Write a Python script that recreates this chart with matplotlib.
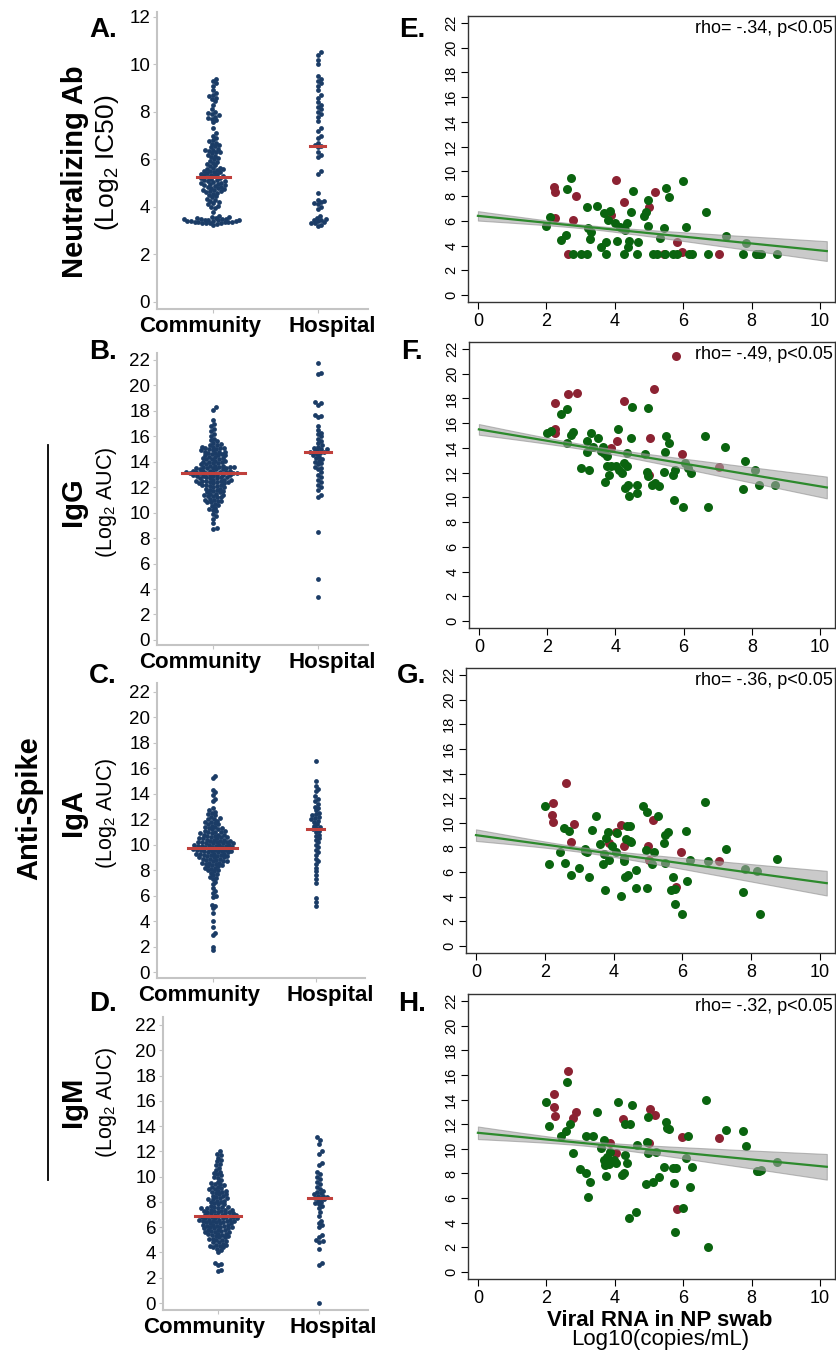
import numpy as np
import matplotlib.pyplot as plt

plt.rcParams['font.family'] = ['Liberation Sans', 'DejaVu Sans']
plt.rcParams['mathtext.fontset'] = 'custom'
plt.rcParams['mathtext.rm'] = 'Liberation Sans'
plt.rcParams['mathtext.default'] = 'regular'

# ---------------- data: beeswarm panels (left) ----------------
categories = ['Community', 'Hospital']

nab_comm = [3.25, 3.28, 3.3, 3.3, 3.32, 3.35, 3.36, 3.38, 3.4, 3.4, 3.42, 3.43, 3.45, 3.46, 3.48,
            3.5, 3.5, 3.52, 3.55, 3.56, 3.58, 3.6, 3.3, 3.35, 3.45, 3.4, 3.5, 3.38,
            3.8, 3.95, 4.05, 4.1, 4.2, 4.25, 4.3, 4.35, 4.4, 4.45, 4.5, 4.55, 4.6, 4.62, 4.65,
            4.7, 4.72, 4.75, 4.8, 4.82, 4.85, 4.88, 4.9, 4.92, 4.95, 4.97, 5.0, 5.02, 5.05, 5.07,
            5.1, 5.12, 5.14, 4.0, 4.15, 4.68, 4.78,
            5.18, 5.2, 5.22, 5.25, 5.28, 5.3, 5.32, 5.35, 5.38, 5.4, 5.42, 5.45, 5.48, 5.5, 5.52,
            5.55, 5.58, 5.6, 5.62, 5.65, 5.7, 5.75, 5.8, 5.85, 5.9, 5.95, 6.0, 6.05, 6.1, 6.15,
            6.2, 6.25, 6.3, 6.32, 6.35, 6.38, 6.4, 6.45, 6.5, 6.55, 6.6, 6.65, 6.7, 6.75, 6.8,
            6.9, 7.0, 7.1, 7.3, 7.55, 7.65, 7.7, 7.75, 7.8, 7.85, 7.9, 7.95, 8.0, 8.1, 8.3, 8.45,
            8.55, 8.6, 8.65, 8.7, 8.8, 8.9, 9.1, 9.2, 9.3, 9.4]
nab_hosp = [3.2, 3.25, 3.3, 3.35, 3.4, 3.45, 3.5, 3.55, 3.6, 3.3, 3.45, 3.9, 4.0, 4.1, 4.15, 4.2,
            4.25, 4.3, 4.6, 5.4, 5.5, 6.1, 6.2, 6.3, 6.5, 6.55, 6.6, 6.7, 6.9, 7.0, 7.2, 7.3, 7.6,
            7.8, 7.9, 8.0, 8.1, 8.2, 8.3, 8.4, 8.6, 8.7, 8.9, 9.1, 9.2, 9.3, 9.4, 9.5, 10.0, 10.2,
            10.4, 10.5]

igg_comm = [8.7, 8.8, 9.2, 9.5, 9.7, 9.9, 10.1, 10.2, 10.4, 10.5, 10.6, 10.7, 10.8, 10.8, 10.9,
            11.0, 11.0, 11.1, 11.2, 11.3, 11.3, 11.4, 11.5, 11.5, 11.6, 11.7, 11.7, 11.8, 11.9,
            11.9, 12.0, 12.0, 12.1, 12.2, 12.2, 12.3, 12.3, 12.4, 12.4, 12.5, 12.5, 12.5, 12.6,
            12.6, 12.7, 12.7, 12.8, 12.8, 12.9, 12.9, 13.0, 13.0, 13.0, 13.1, 13.1, 13.1, 13.2,
            13.2, 13.2, 13.2, 13.3, 13.3, 13.3, 13.4, 13.4, 13.4, 13.5, 13.5, 13.5, 13.6, 13.6,
            13.6, 13.7, 13.7, 13.8, 13.8, 13.9, 13.9, 14.0, 14.0, 14.1, 14.1, 14.2, 14.2, 14.3,
            14.3, 14.4, 14.4, 14.5, 14.5, 14.6, 14.6, 14.7, 14.7, 14.8, 14.8, 14.9, 14.9, 15.0,
            15.0, 15.1, 15.1, 15.2, 15.2, 15.3, 15.4, 15.5, 15.6, 15.7, 15.8, 16.0, 16.2, 16.4,
            16.6, 16.8, 17.0, 17.3, 18.1, 18.3,
            11.2, 11.6, 12.1, 12.3, 12.6, 12.8, 13.0, 13.1, 10.3, 10.9, 11.8, 12.4, 12.7, 12.9,
            13.0, 13.2, 13.3, 13.5, 13.6, 14.0, 14.2, 14.5, 14.8, 15.1, 15.3, 12.2, 12.5, 11.4,
            13.1, 13.7]
igg_hosp = [3.4, 4.8, 8.5, 11.2, 11.4, 11.8, 12.0, 12.2, 12.4, 12.6, 12.8, 13.0, 13.2, 13.4, 13.5,
            13.6, 13.8, 13.9, 14.0, 14.1, 14.2, 14.3, 14.4, 14.5, 14.6, 14.7, 14.8, 14.8, 14.8,
            14.9, 15.0, 15.0, 15.1, 15.2, 15.3, 15.5, 15.6, 15.8, 16.0, 16.2, 16.3, 16.5, 16.8,
            17.5, 17.6, 17.7, 18.5, 18.6, 18.7, 20.9, 21.0, 21.8]

iga_comm = [1.7, 2.0, 2.9, 3.1, 3.5, 4.0, 4.6, 5.0, 5.3, 5.9, 6.0, 6.2, 6.6, 6.9, 7.1, 7.3, 7.4,
            7.6, 7.7, 7.8, 7.9, 8.0, 8.1, 8.2, 8.3, 8.3, 8.4, 8.5, 8.5, 8.6, 8.6, 8.7, 8.7, 8.8,
            8.8, 8.9, 8.9, 9.0, 9.0, 9.0, 9.1, 9.1, 9.2, 9.2, 9.3, 9.3, 9.3, 9.4, 9.4, 9.5, 9.5,
            9.5, 9.6, 9.6, 9.6, 9.7, 9.7, 9.7, 9.8, 9.8, 9.8, 9.9, 9.9, 9.9, 10.0, 10.0, 10.0,
            10.1, 10.1, 10.1, 10.2, 10.2, 10.2, 10.3, 10.3, 10.4, 10.4, 10.5, 10.5, 10.6, 10.6,
            10.7, 10.7, 10.8, 10.8, 10.9, 10.9, 11.0, 11.0, 11.1, 11.1, 11.2, 11.3, 11.4, 11.5,
            11.6, 11.7, 11.8, 11.9, 12.0, 12.1, 12.2, 12.3, 12.5, 12.7, 12.9, 13.4, 13.6, 13.9,
            14.1, 14.3, 15.2, 15.4,
            8.0, 8.4, 8.9, 9.2, 9.4, 9.6, 9.8, 10.0, 10.3, 10.5, 10.8, 11.0, 11.3, 11.6, 12.0,
            12.4, 8.2, 8.7, 9.1, 9.5, 9.9, 10.2, 10.6, 11.2, 11.8, 7.5, 12.6, 6.4, 5.2, 9.7, 10.1,
            8.6, 9.3, 10.4, 11.4]
iga_hosp = [5.2, 5.5, 5.8, 7.0, 7.3, 7.6, 7.9, 8.2, 8.5, 8.7, 8.9, 9.2, 9.4, 9.6, 9.8, 10.0, 10.2,
            10.4, 10.5, 10.7, 10.8, 11.0, 11.1, 11.2, 11.3, 11.4, 11.5, 11.6, 11.8, 11.9, 12.0,
            12.1, 12.2, 12.3, 12.4, 12.5, 12.7, 12.9, 13.0, 13.2, 13.4, 13.6, 13.8, 14.2, 14.4,
            14.6, 15.0, 16.6]

igm_comm = [2.5, 2.6, 3.0, 3.2, 4.0, 4.3, 4.4, 4.5, 4.5, 4.6, 4.7, 4.8, 4.9, 5.0, 5.1, 5.2, 5.3,
            5.3, 5.4, 5.5, 5.5, 5.6, 5.6, 5.7, 5.7, 5.8, 5.8, 5.9, 5.9, 6.0, 6.0, 6.1, 6.1, 6.2,
            6.2, 6.3, 6.3, 6.4, 6.4, 6.4, 6.5, 6.5, 6.5, 6.6, 6.6, 6.6, 6.7, 6.7, 6.7, 6.8, 6.8,
            6.8, 6.9, 6.9, 7.0, 7.0, 7.0, 7.1, 7.1, 7.2, 7.2, 7.3, 7.3, 7.4, 7.4, 7.5, 7.5, 7.6,
            7.6, 7.7, 7.8, 7.9, 8.0, 8.1, 8.2, 8.3, 8.4, 8.5, 8.6, 8.7, 8.8, 8.9, 9.0, 9.1, 9.2,
            9.3, 9.4, 9.5, 9.7, 9.9, 10.1, 10.3, 10.5, 10.7, 11.0, 11.3, 11.5, 11.7, 12.0,
            4.2, 4.6, 5.0, 5.2, 5.4, 5.8, 6.0, 6.2, 6.5, 6.8, 7.1, 7.4, 7.8, 8.0, 8.3, 8.6, 8.9,
            9.2, 9.6, 10.0, 10.4, 10.9, 11.2, 4.8, 5.6, 6.3, 6.9, 7.2, 7.6, 8.1, 8.5, 9.0, 5.1,
            5.9, 6.6, 7.0, 7.3, 8.2, 8.8, 9.4, 10.2, 5.5, 6.1, 6.7, 7.5, 4.4, 3.1, 11.8]
igm_hosp = [0.0, 3.0, 3.2, 4.3, 4.8, 4.9, 5.0, 5.2, 5.4, 6.0, 6.2, 6.3, 6.5, 6.9, 7.2, 7.5, 7.7,
            7.8, 7.9, 8.0, 8.1, 8.2, 8.3, 8.3, 8.4, 8.5, 8.5, 8.6, 8.7, 8.8, 8.9, 9.0, 9.2, 9.4,
            9.6, 9.8, 10.0, 10.2, 10.4, 10.9, 11.1, 11.8, 12.0, 12.6, 12.9, 13.1]

# ---------------- data: scatter panels (right) ----------------
e_green_x = [2.0, 2.1, 2.44, 2.58, 2.6, 2.71, 2.78, 3.0, 3.2, 3.18, 3.22, 3.31, 3.29, 3.49, 3.6, 3.68,
             3.75, 3.75, 3.8, 3.85, 4.0, 4.07, 4.14, 4.2, 4.26, 4.31, 4.38, 4.35, 4.41, 4.48, 4.53,
             4.65, 4.67, 4.87, 4.92, 4.97, 4.97, 5.11, 5.23, 5.31, 5.45, 5.5, 5.58, 5.47, 5.7, 5.81,
             6.0, 6.08, 6.16, 6.26, 6.67, 6.74, 7.25, 7.76, 7.83, 8.12, 8.22, 8.27, 8.74]
e_green_y = [5.6, 6.3, 4.45, 4.86, 8.55, 9.45, 3.3, 3.3, 3.3, 7.15, 5.4, 5.13, 4.5, 7.2, 3.9, 6.6,
             4.3, 3.3, 6.07, 6.8, 5.8, 4.37, 5.53, 5.4, 3.3, 5.26, 3.9, 5.8, 4.4, 6.75, 8.42,
             3.3, 4.3, 6.4, 6.75, 7.7, 5.6, 3.3, 3.3, 4.64, 5.4, 8.64, 7.96, 3.3, 3.3, 3.3,
             9.23, 5.48, 3.3, 3.3, 6.7, 3.3, 4.8, 3.3, 4.24, 3.3, 3.3, 3.3, 3.3]
e_red_x = [2.22, 2.24, 2.25, 2.63, 2.78, 2.88, 3.88, 4.04, 4.26, 5.01, 5.17, 5.43, 5.81, 5.96, 7.06]
e_red_y = [8.7, 8.3, 6.2, 3.3, 6.07, 8.0, 6.5, 9.3, 7.5, 7.15, 8.3, 3.3, 4.32, 3.45, 3.3]

f_green_x = [1.99, 2.11, 2.42, 2.59, 2.59, 2.71, 2.76, 2.98, 3.17, 3.18, 3.22, 3.29, 3.34, 3.49, 3.58,
             3.64, 3.68, 3.71, 3.77, 3.77, 3.8, 3.87, 4.01, 4.09, 4.11, 4.21, 4.26, 4.29, 4.33,
             4.35, 4.38, 4.4, 4.45, 4.5, 4.64, 4.64, 4.88, 4.93, 4.96, 4.96, 5.08, 5.17, 5.27,
             5.44, 5.46, 5.49, 5.56, 5.68, 5.73, 5.75, 5.97, 6.04, 6.12, 6.22, 6.64, 6.72, 7.22,
             7.73, 7.8, 8.1, 8.21, 8.68]
f_green_y = [15.2, 15.33, 16.73, 17.14, 14.39, 15.06, 15.28, 12.36, 14.52, 13.71, 12.23, 15.2, 14.04,
             14.79, 13.77, 14.04, 13.58, 11.23, 13.31, 12.5, 11.82, 12.5, 12.5, 15.55, 12.23, 11.96,
             12.77, 10.74, 13.58, 12.5, 11.0, 10.07, 14.79, 17.3, 11.0, 10.34, 13.5, 12.09, 11.69,
             17.27, 11.0, 11.15, 10.88, 12.09, 13.63, 14.98, 14.39, 11.77, 9.8, 12.23, 9.2, 12.77,
             12.36, 12.0, 14.93, 9.26, 14.04, 10.69, 12.96, 12.23, 11.0, 10.96]
f_red_x = [2.22, 2.23, 2.23, 2.62, 2.88, 3.87, 4.04, 4.24, 5.01, 4.98, 5.14, 5.78, 5.95, 7.04]
f_red_y = [17.62, 15.55, 15.2, 18.38, 18.43, 13.98, 14.57, 17.81, 14.79, 11.82, 18.8, 21.4, 13.52, 12.44]

g_green_x = [2.02, 2.11, 2.45, 2.57, 2.59, 2.7, 2.77, 2.99, 3.16, 3.17, 3.23, 3.3, 3.37, 3.5, 3.62,
             3.69, 3.72, 3.76, 3.79, 3.84, 3.86, 3.96, 4.06, 4.1, 4.22, 4.29, 4.3, 4.32, 4.37, 4.39,
             4.42, 4.47, 4.51, 4.49, 4.64, 4.66, 4.87, 4.95, 4.97, 4.98, 5.12, 5.19, 5.29, 5.47,
             5.51, 5.58, 5.49, 5.68, 5.73, 5.78, 5.79, 6.0, 6.1, 6.15, 6.23, 6.67, 6.75, 7.26,
             7.77, 7.83, 8.16, 8.27, 8.74]
g_green_y = [11.38, 6.64, 7.59, 9.54, 6.72, 9.35, 5.75, 6.31, 7.91, 7.72, 7.64, 5.61, 9.43, 10.57, 8.27,
             6.64, 7.45, 4.55, 8.73, 9.27, 6.99, 8.13, 7.64, 9.16, 4.07, 7.18, 6.91, 5.64, 8.67, 9.76,
             5.75, 8.54, 8.46, 9.76, 4.69, 6.18, 11.38, 7.78, 10.84, 4.69, 6.64, 7.59, 10.57, 8.4,
             9.02, 9.27, 6.72, 4.55, 5.61, 3.44, 4.6, 2.57, 9.3, 5.28, 6.96, 11.73, 6.86, 7.91,
             4.39, 6.23, 6.1, 2.57, 7.05]
g_red_x = [2.23, 2.21, 2.23, 2.62, 2.77, 2.86, 3.88, 4.06, 4.22, 4.29, 5.0, 5.03, 5.15, 5.83, 5.97, 7.06]
g_red_y = [11.6, 10.65, 10.03, 13.22, 8.46, 9.89, 8.4, 9.27, 9.81, 8.13, 8.13, 6.99, 10.22, 4.82, 7.64, 6.91]

h_green_x = [1.99, 2.09, 2.43, 2.58, 2.59, 2.7, 2.77, 2.98, 3.16, 3.17, 3.22, 3.29, 3.36, 3.49, 3.61,
             3.68, 3.68, 3.71, 3.75, 3.77, 3.82, 3.85, 3.97, 4.05, 4.1, 4.21, 4.28, 4.31, 4.31, 4.36,
             4.41, 4.46, 4.5, 4.63, 4.65, 4.92, 4.94, 4.97, 4.97, 5.11, 5.2, 5.28, 5.45, 5.5, 5.53,
             5.6, 5.7, 5.72, 5.77, 5.79, 6.01, 6.09, 6.14, 6.19, 6.26, 6.67, 6.74, 7.26, 7.74, 7.84,
             8.15, 8.22, 8.28, 8.74]
h_green_y = [13.81, 11.86, 11.05, 11.43, 15.43, 12.05, 9.62, 8.35, 11.05, 8.0, 6.05, 7.27, 11.05, 12.95,
             10.03, 10.7, 9.08, 8.68, 7.81, 9.35, 8.76, 9.76, 9.08, 8.86, 13.81, 7.86, 8.05, 12.05,
             9.49, 8.86, 4.35, 12.05, 13.59, 4.89, 10.3, 7.14, 10.57, 12.59, 9.7, 7.32, 9.76, 7.68,
             8.49, 12.19, 11.65, 11.59, 8.46, 7.24, 3.27, 8.41, 5.16, 9.22, 11.03, 6.92, 8.49, 14.0,
             2.05, 11.51, 11.46, 10.24, 8.22, 8.22, 8.27, 8.89]
h_red_x = [2.22, 2.22, 2.24, 2.63, 2.78, 2.88, 3.87, 4.05, 4.24, 5.02, 5.17, 5.0, 5.82, 5.96, 7.06]
h_red_y = [14.49, 13.41, 12.65, 16.32, 12.51, 13.0, 10.49, 9.68, 12.46, 13.27, 12.73, 10.51, 5.08, 10.92, 10.84]

# fitted line and confidence band (x = 0 and x = 10.2)
fit_x = [0.0, 10.2]
fit_y0 = [6.4, 15.5, 9.0, 11.3]
fit_y1 = [3.55, 10.8, 5.1, 8.54]
band_left = [0.38, 0.43, 0.47, 0.51]
band_min = [0.15, 0.2, 0.2, 0.2]
band_right = [0.8, 0.88, 1.0, 1.04]

rho_labels = ['rho= -.34, p<0.05', 'rho= -.49, p<0.05', 'rho= -.36, p<0.05', 'rho= -.32, p<0.05']

# ---------------- layout helpers ----------------
W, H = 837, 1359
fig = plt.figure(figsize=(W / 100, H / 100), dpi=100)


def box(l, t, r, b):
    return [l / W, 1 - b / H, (r - l) / W, (b - t) / H]


def ftext(x, y, s, **kw):
    fig.text(x / W, 1 - y / H, s, **kw)


def swarm(vals, ppx, ppy, d=3.8):
    vals = np.asarray(vals, float)
    offs = np.zeros(len(vals))
    placed = []
    for i in np.argsort(vals, kind='stable'):
        y = vals[i] * ppy
        near = [(px, py) for px, py in placed if abs(py - y) < d]
        cands = [0.0]
        for px, py in near:
            dx = np.sqrt(d * d - (py - y) ** 2)
            cands += [px + dx, px - dx]
        cands.sort(key=abs)
        for c in cands:
            if all((c - px) ** 2 + (y - py) ** 2 >= d * d - 1e-6 for px, py in near):
                break
        placed.append((c, y))
        offs[i] = c / ppx
    return offs


navy = '#1b3c66'
med_red = '#c0403c'
grey_sp = '#c4c4c4'

left_panels = [
    (nab_comm, nab_hosp, (157, 12, 368, 309), (-0.3, 12.2), range(0, 13, 2)),
    (igg_comm, igg_hosp, (157, 353, 368, 645), (-0.4, 22.55), range(0, 23, 2)),
    (iga_comm, iga_hosp, (157, 683, 365, 978), (-0.47, 22.7), range(0, 23, 2)),
    (igm_comm, igm_hosp, (163, 1017, 368, 1310), (-0.55, 22.63), range(0, 23, 2)),
]
xlim_l = (-0.54, 1.48)
label_shift = [-0.13, 0.14]

for comm, hosp, bx, ylim, yt in left_panels:
    ax = fig.add_axes(box(*bx))
    ppx = (bx[2] - bx[0]) / (xlim_l[1] - xlim_l[0])
    ppy = (bx[3] - bx[1]) / (ylim[1] - ylim[0])
    for k, vals in enumerate([comm, hosp]):
        offs = swarm(vals, ppx, ppy)
        ax.scatter(k + offs, vals, s=12, color=navy, linewidths=0, zorder=2)
        med = np.median(vals)
        v = np.asarray(vals)
        close = np.abs(v - med) * ppy < 10
        hw = np.max(np.abs(offs[close])) + 4 / ppx
        ax.plot([k - hw, k + hw], [med, med], color=med_red, lw=2.2, zorder=3)
        ax.annotate(categories[k], xy=(k + label_shift[k], 0), xycoords=('data', 'axes fraction'),
                    xytext=(0, -5), textcoords='offset points', ha='center', va='top',
                    fontsize=16, fontweight='bold')
    ax.set_xlim(*xlim_l)
    ax.set_ylim(*ylim)
    ax.set_yticks(list(yt))
    ax.set_xticks([0, 1])
    ax.set_xticklabels([])
    ax.tick_params(axis='y', labelsize=13.5, length=3, color=grey_sp, pad=2)
    ax.tick_params(axis='x', length=3, color=grey_sp)
    for sp in ['top', 'right']:
        ax.spines[sp].set_visible(False)
    for sp in ['left', 'bottom']:
        ax.spines[sp].set_color(grey_sp)
        ax.spines[sp].set_linewidth(1.5)

green = '#0a640f'
dred = '#8c2232'
right_panels = [
    (e_green_x, e_green_y, e_red_x, e_red_y, (468, 16, 835, 302)),
    (f_green_x, f_green_y, f_red_x, f_red_y, (469, 342, 835, 628)),
    (g_green_x, g_green_y, g_red_x, g_red_y, (466, 668, 835, 953)),
    (h_green_x, h_green_y, h_red_x, h_red_y, (468, 994, 835, 1279)),
]

for i, ((gx, gy, rx, ry, bx), rho) in enumerate(zip(right_panels, rho_labels)):
    ax = fig.add_axes(box(*bx))
    ax.scatter(rx, ry, s=42, color=dred, linewidths=0, zorder=2)
    ax.scatter(gx, gy, s=42, color=green, linewidths=0, zorder=3)
    xs = np.linspace(fit_x[0], fit_x[1], 120)
    yh = np.interp(xs, fit_x, [fit_y0[i], fit_y1[i]])
    # hyperbolic confidence band through the three read-off half-widths
    h0, hm, h1 = band_left[i], band_min[i], band_right[i]
    r = np.sqrt((h0 ** 2 - hm ** 2) / (h1 ** 2 - hm ** 2))
    xc = fit_x[1] * r / (1 + r)
    q = (h0 ** 2 - hm ** 2) / xc ** 2
    hw = np.sqrt(hm ** 2 + q * (xs - xc) ** 2)
    ax.fill_between(xs, yh - hw, yh + hw, color='#a8a8a8', alpha=0.6, lw=0.8,
                    edgecolor='#909090', zorder=4)
    ax.plot(xs, yh, color='#2d8a2d', lw=1.6, zorder=5)
    ax.set_xlim(-0.29, 10.44)
    ax.set_ylim(-0.57, 22.57)
    ax.set_xticks(range(0, 11, 2))
    ax.set_yticks(range(0, 23, 2))
    ax.tick_params(axis='x', labelsize=13, length=5, pad=3)
    ax.tick_params(axis='y', labelsize=10.5, length=5, pad=2)
    for lab in ax.get_yticklabels():
        lab.set_rotation(90)
        lab.set_va('center')
    for sp in ax.spines.values():
        sp.set_linewidth(1.0)
        sp.set_color('#333333')
    ax.text(0.995, 0.955, rho, transform=ax.transAxes, ha='right', va='center', fontsize=13)

# panel letters
for lab, x, y in [('A.', 103, 30), ('B.', 103, 352), ('C.', 103, 676), ('D.', 103, 1004),
                  ('E.', 412, 30), ('F.', 412, 352), ('G.', 412, 676), ('H.', 412, 1004)]:
    ftext(x, y, lab, fontsize=20, fontweight='bold', ha='center', va='center')

# left row labels
ftext(75, 172, 'Neutralizing Ab', fontsize=21, fontweight='bold', rotation=90, ha='center', va='center')
ftext(107, 163, r'(Log$_2$ IC50)', fontsize=19, rotation=90, ha='center', va='center')
for name, yc in [('IgG', 502), ('IgA', 813), ('IgM', 1102)]:
    ftext(73, yc, name, fontsize=21, fontweight='bold', rotation=90, ha='center', va='center')
    ftext(107, yc, r'(Log$_2$ AUC)', fontsize=15.5, rotation=90, ha='center', va='center')
ftext(29, 808, 'Anti-Spike', fontsize=21, fontweight='bold', rotation=90, ha='center', va='center')
fig.add_artist(plt.Line2D([48 / W, 48 / W], [1 - 445 / H, 1 - 1180 / H], color='black', lw=1.3))

# bottom x label
ftext(660, 1320, 'Viral RNA in NP swab', fontsize=16, fontweight='bold', ha='center', va='center')
ftext(660, 1340, 'Log10(copies/mL)', fontsize=16, ha='center', va='center')

fig.savefig('out.png', dpi=100)
